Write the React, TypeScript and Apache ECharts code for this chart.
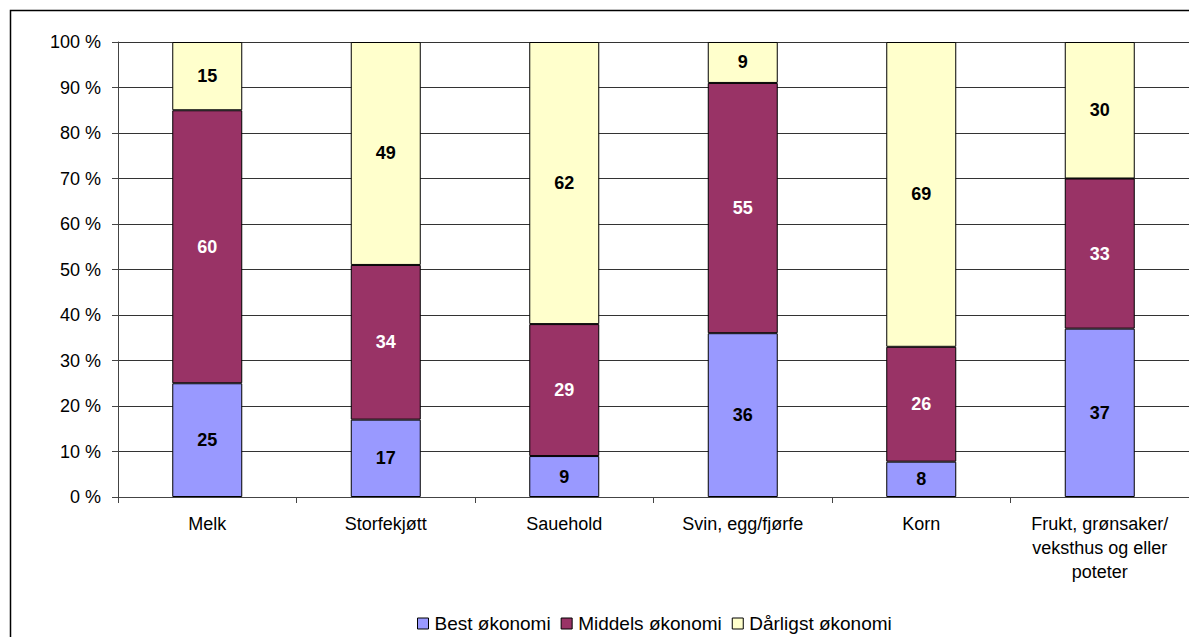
import React, { useEffect, useRef } from "react";
import * as echarts from "echarts";

const categories = [
  "Melk",
  "Storfekjøtt",
  "Sauehold",
  "Svin, egg/fjørfe",
  "Korn",
  "Frukt, grønsaker/\nveksthus og eller\npoteter",
];
const bestValues = [25, 17, 9, 36, 8, 37];
const middelsValues = [60, 34, 29, 55, 26, 33];
const darligstValues = [15, 49, 62, 9, 69, 30];
const seriesNames = ["Best økonomi", "Middels økonomi", "Dårligst økonomi"];

export default function App() {
  const ref = useRef<HTMLDivElement>(null);
  useEffect(() => {
    if (!ref.current) return;
    const chart = echarts.init(ref.current, undefined, { renderer: "svg" });
    const totals = categories.map((_, i) => bestValues[i] + middelsValues[i] + darligstValues[i]);
    const raw = [bestValues, middelsValues, darligstValues];
    const colors = ["#9999FF", "#993366", "#FFFFCC"];
    const labelColors = ["#000", "#fff", "#000"];
    const font = "'Liberation Sans', Arial, sans-serif";
    chart.setOption({
      animation: false,
      textStyle: { fontFamily: font },
      graphic: [
        {
          type: "rect",
          shape: { x: 10.5, y: 10.5, width: 1200, height: 700 },
          style: { fill: "none", stroke: "#000", lineWidth: 1.5 },
          silent: true,
          z: 100,
        },
      ],
      grid: { left: 118, right: -3, top: 42, bottom: 140, containLabel: false },
      legend: {
        top: 609,
        left: 412,
        itemWidth: 11,
        itemHeight: 11,
        itemGap: 10,
        icon: "rect",
        itemStyle: { borderColor: "#000", borderWidth: 1 },
        textStyle: { fontSize: 19, color: "#000", fontFamily: font, padding: [0, 0, 0, 1] },
        data: seriesNames,
      },
      xAxis: {
        type: "category",
        data: categories,
        axisLine: { lineStyle: { color: "#444", width: 1 } },
        axisTick: { show: true, length: 6, lineStyle: { color: "#444" } },
        axisLabel: {
          fontSize: 18,
          color: "#000",
          lineHeight: 24,
          margin: 15,
          interval: 0,
          fontFamily: font,
        },
        splitLine: { show: false },
      },
      yAxis: {
        type: "value",
        min: 0,
        max: 100,
        interval: 10,
        axisLine: { show: true, lineStyle: { color: "#444" } },
        axisTick: { show: true, length: 6, lineStyle: { color: "#444" } },
        axisLabel: {
          formatter: "{value} %",
          fontSize: 18,
          color: "#000",
          margin: 17,
          fontFamily: font,
        },
        splitLine: { show: true, lineStyle: { color: "#333", width: 1 } },
      },
      series: raw.map((arr, s) => ({
        name: seriesNames[s],
        type: "bar",
        stack: "total",
        barWidth: 70,
        itemStyle: { color: colors[s], borderColor: "#000", borderWidth: 1 },
        label: {
          show: true,
          position: "inside",
          fontSize: 18,
          fontWeight: "bold",
          color: labelColors[s],
          fontFamily: font,
          formatter: (p: any) => String(arr[p.dataIndex]),
        },
        data: arr.map((v, i) => (v / totals[i]) * 100),
      })),
    });
    return () => chart.dispose();
  }, []);
  return (
    <div
      ref={ref}
      style={{ position: "fixed", left: 0, top: 0, width: 1189, height: 637, background: "#fff" }}
    />
  );
}
